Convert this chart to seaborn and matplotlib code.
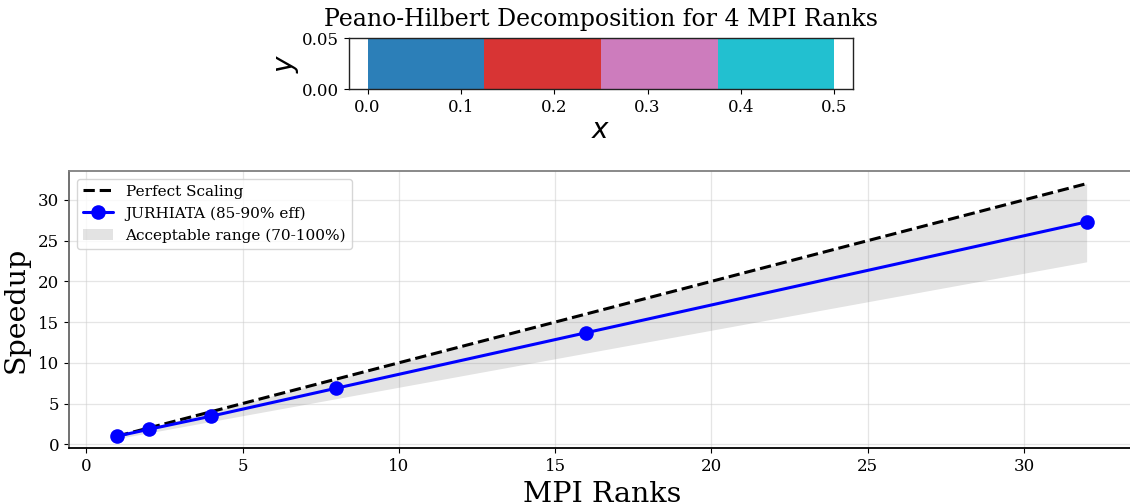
import matplotlib
matplotlib.use("Agg")
import matplotlib.pyplot as plt
import seaborn as sns
import numpy as np
import pandas as pd

# ---- data ----
ranks = [1, 2, 4, 8, 16, 32]
perfect = [1, 2, 4, 8, 16, 32]
jurhiata = [1.0, 1.83, 3.45, 6.88, 13.7, 27.3]
range_low = [0.7, 1.4, 2.8, 5.6, 11.2, 22.4]
range_high = [1, 2, 4, 8, 16, 32]

domain_starts = [0.0, 0.125, 0.25, 0.375]
domain_widths = [0.125, 0.125, 0.125, 0.125]
domain_height = 0.05
domain_colors = ["#2c7fb8", "#d83434", "#cd7cbd", "#22c0d0"]

sns.set_style("ticks")
plt.rcParams["font.family"] = ["DejaVu Serif"]
plt.rcParams["mathtext.fontset"] = "dejavusans"
for k in ["text.color", "axes.labelcolor", "xtick.color", "ytick.color"]:
    plt.rcParams[k] = "black"

fig = plt.figure(figsize=(11.3, 5.04), dpi=100)

# ---- top: decomposition ----
ax1 = fig.add_axes([0.3088, 0.8234, 0.4460, 0.1012])
ax1.bar(domain_starts, [domain_height] * 4, width=domain_widths, align="edge",
        color=domain_colors, edgecolor="none", linewidth=0)
ax1.set_xlim(-0.02, 0.52)
ax1.set_ylim(0, 0.05)
ax1.set_yticks([0.0, 0.05])
ax1.set_yticklabels(["0.00", "0.05"])
ax1.set_xticks([0.0, 0.1, 0.2, 0.3, 0.4, 0.5])
ax1.tick_params(labelsize=12)
ax1.set_xlabel("$x$", fontsize=20, labelpad=1)
ax1.set_ylabel("$y$", fontsize=20, labelpad=1)
ax1.set_title("Peano-Hilbert Decomposition for 4 MPI Ranks", fontsize=17, pad=9)
for s in ax1.spines.values():
    s.set_color("#222222")
    s.set_linewidth(1.0)

# ---- bottom: speedup ----
ax2 = fig.add_axes([0.0611, 0.1105, 0.9434, 0.5502])
df_perf = pd.DataFrame({"ranks": ranks, "speedup": perfect})
df_j = pd.DataFrame({"ranks": ranks, "speedup": jurhiata})
sns.lineplot(data=df_perf, x="ranks", y="speedup", ax=ax2, color="black",
             linestyle="--", linewidth=2.2, label="Perfect Scaling")
sns.lineplot(data=df_j, x="ranks", y="speedup", ax=ax2, color="blue",
             linewidth=2.2, marker="o", markersize=10.5, markeredgewidth=0,
             label="JURHIATA (85-90% eff)")
ax2.fill_between(ranks, range_low, range_high, color="gray", alpha=0.22,
                 linewidth=0, label="Acceptable range (70-100%)")
ax2.set_xlim(-0.55, 33.55)
ax2.set_ylim(-0.5, 33.55)
ax2.set_xticks([0, 5, 10, 15, 20, 25, 30])
ax2.set_yticks([0, 5, 10, 15, 20, 25, 30])
ax2.tick_params(labelsize=12)
ax2.grid(True, color="#cccccc", alpha=0.5, linewidth=0.9)
ax2.set_xlabel("MPI Ranks", fontsize=20.5, labelpad=4)
ax2.set_ylabel("Speedup", fontsize=20.5, labelpad=6)
ax2.spines["bottom"].set_color("black")
ax2.spines["left"].set_color("#666666")
ax2.spines["top"].set_color("#808080")
ax2.spines["right"].set_color("#808080")
for s in ax2.spines.values():
    s.set_linewidth(1.3)
leg = ax2.legend(loc="upper left", fontsize=11, frameon=True, fancybox=True,
                 framealpha=0.8, edgecolor="#cccccc", borderpad=0.4,
                 handlelength=2.0, labelspacing=0.5)

fig.savefig("out.png", dpi=100)
